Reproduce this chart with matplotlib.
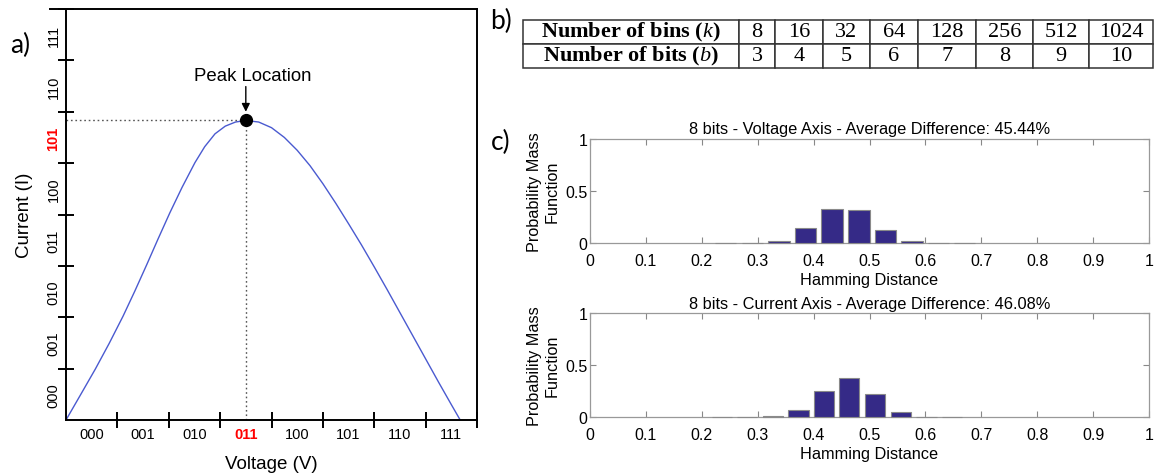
import matplotlib
matplotlib.use("Agg")
import matplotlib.pyplot as plt

plt.rcParams['font.family'] = ['Liberation Sans', 'DejaVu Sans']
plt.rcParams['mathtext.fontset'] = 'custom'
plt.rcParams['mathtext.rm'] = 'Liberation Serif'
plt.rcParams['mathtext.it'] = 'Liberation Serif:italic'

# ---- panel a: I-V curve with 3-bit quantisation ----
codes = ['000', '001', '010', '011', '100', '101', '110', '111']
voltage = [0, 0.3, 0.57, 0.84, 1.11, 1.34, 1.57, 1.79, 2.02, 2.26, 2.51, 2.7, 2.9,
           3.1, 3.3, 3.5, 3.75, 4.0, 4.25, 4.5, 4.75, 5.0, 5.25, 5.5, 5.75, 6.0,
           6.25, 6.5, 6.75, 7.0, 7.25, 7.5, 7.673]
current = [0, 0.52, 0.99, 1.49, 2.02, 2.51, 3.02, 3.52, 4.03, 4.53, 5.01, 5.32, 5.57,
           5.72, 5.80, 5.83, 5.8, 5.69, 5.5, 5.25, 4.95, 4.6, 4.22, 3.82, 3.41, 2.98,
           2.54, 2.09, 1.64, 1.19, 0.74, 0.3, 0.0]
peak_v, peak_i = 3.5, 5.83
peak_v_code, peak_i_code = '011', '101'

# ---- panel b: table ----
n_bins = [8, 16, 32, 64, 128, 256, 512, 1024]
n_bits = [3, 4, 5, 6, 7, 8, 9, 10]

# ---- panel c: hamming distance PMFs ----
volt_hd = [0.243, 0.291, 0.338, 0.386, 0.433, 0.481, 0.528, 0.576, 0.623, 0.670]
volt_pmf = [0.004, 0.004, 0.025, 0.147, 0.329, 0.319, 0.131, 0.022, 0.004, 0.004]
curr_hd = [0.236, 0.281, 0.327, 0.373, 0.419, 0.464, 0.510, 0.556, 0.602, 0.648]
curr_pmf = [0.004, 0.004, 0.012, 0.073, 0.256, 0.375, 0.224, 0.048, 0.004, 0.004]
hd_ticks = [0, 0.1, 0.2, 0.3, 0.4, 0.5, 0.6, 0.7, 0.8, 0.9, 1]
hd_labels = ['0', '0.1', '0.2', '0.3', '0.4', '0.5', '0.6', '0.7', '0.8', '0.9', '1']

W, H = 1155, 477
fig = plt.figure(figsize=(W / 100, H / 100), dpi=100)


def px_rect(l, t, r, b):
    return [l / W, 1 - b / H, (r - l) / W, (b - t) / H]


# panel a
ax = fig.add_axes(px_rect(66, 10, 477, 421))
ax.plot(voltage, current, color='#4a5ad0', lw=1.0)
ax.plot([0, peak_v], [peak_i, peak_i], color='#555555', lw=1, ls=(0, (1.2, 2)))
ax.plot([peak_v, peak_v], [0, peak_i], color='#555555', lw=1, ls=(0, (1.2, 2)))
ax.plot(peak_v, peak_i, 'o', color='black', ms=8.5)
ax.annotate('', xy=(peak_v, peak_i + 0.17), xytext=(peak_v, peak_i + 0.66),
            arrowprops=dict(arrowstyle='-|>', color='black', lw=1,
                            mutation_scale=12, shrinkA=0, shrinkB=0))
ax.text(peak_v + 0.14, peak_i + 0.87, 'Peak Location', ha='center', va='center',
        fontsize=13.4)
ax.set_xlim(0, 8)
ax.set_ylim(0, 8)
for s in ax.spines.values():
    s.set_linewidth(1.4)
ax.set_xticks(range(1, 9))
ax.set_yticks(range(1, 9))
ax.set_xticklabels([])
ax.set_yticklabels([])
ax.tick_params(which='major', direction='inout', length=11.5, width=1.4)
mid = [i + 0.5 for i in range(len(codes))]
ax.set_xticks(mid, minor=True)
ax.set_yticks(mid, minor=True)
ax.set_xticklabels(codes, minor=True, fontsize=10.5)
ax.set_yticklabels(codes, minor=True, fontsize=10.5, rotation=90, va='center')
ax.tick_params(which='minor', length=0)
ax.tick_params(axis='x', which='minor', pad=5)
ax.tick_params(axis='y', which='minor', pad=4)
for lab in ax.get_xticklabels(minor=True):
    if lab.get_text() == peak_v_code:
        lab.set_color('red')
        lab.set_fontweight('bold')
for lab in ax.get_yticklabels(minor=True):
    if lab.get_text() == peak_i_code:
        lab.set_color('red')
        lab.set_fontweight('bold')
ax.set_xlabel('Voltage (V)', fontsize=13.5)
ax.set_ylabel('Current (I)', fontsize=13.5)
ax.xaxis.set_label_coords(0.5, -0.085)
ax.yaxis.set_label_coords(-0.08, 0.5)
ax.plot([-0.04, 0], [1, 1], transform=ax.transAxes, color='black', lw=1.4,
        clip_on=False)

# panel labels
for txt, x, y in [('a)', 20, 45), ('b)', 501, 21), ('c)', 501, 142)]:
    fig.text(x / W, 1 - y / H, txt, fontsize=19, family='Lato',
             ha='center', va='center')

# panel b
tab_ax = fig.add_axes(px_rect(523, 20.5, 1153, 68.5))
tab_ax.axis('off')
cells = [['Number of bins ($k$)'] + [str(v) for v in n_bins],
         ['Number of bits ($b$)'] + [str(v) for v in n_bits]]
col_w = [216, 36, 48, 47, 48, 58, 57, 56, 64]
col_w = [c / sum(col_w) for c in col_w]
tab = tab_ax.table(cellText=cells, colWidths=col_w, cellLoc='center',
                   bbox=[0, 0, 1, 1])
tab.auto_set_font_size(False)
tab.set_fontsize(16)
for (r, c), cell in tab.get_celld().items():
    cell.set_edgecolor('#333333')
    cell.set_linewidth(1.1)
    t = cell.get_text()
    t.set_fontfamily('Liberation Serif')
    if c == 0:
        t.set_fontweight('bold')


# panel c
def pmf_panel(rect, hd, pmf, width, title):
    a = fig.add_axes(rect)
    a.bar(hd, pmf, width=width, color='#352a87', edgecolor='#8a8a8a', lw=0.8,
          zorder=3, clip_on=False)
    a.set_xlim(0, 1)
    a.set_ylim(0, 1)
    a.set_xticks(hd_ticks)
    a.set_xticklabels(hd_labels)
    a.set_yticks([0, 0.5, 1])
    a.set_yticklabels(['0', '0.5', '1'])
    a.tick_params(direction='in', top=True, right=True, length=4, width=0.8,
                  color='#888888', labelsize=11.5)
    a.tick_params(axis='x', pad=7)
    a.tick_params(axis='y', pad=2)
    for s in a.spines.values():
        s.set_color('#999999')
        s.set_linewidth(0.9)
    a.set_title(title, fontsize=11.8, pad=4)
    a.set_xlabel('Hamming Distance', fontsize=11.7)
    a.set_ylabel('Probability Mass\nFunction', fontsize=11.7, linespacing=1.2)
    a.xaxis.set_label_coords(0.5, -0.275)
    a.yaxis.set_label_coords(-0.055, 0.5)
    return a


pmf_panel(px_rect(590, 140, 1149, 244.3), volt_hd, volt_pmf, 0.038,
          '8 bits - Voltage Axis - Average Difference: 45.44%')
pmf_panel(px_rect(590, 314.3, 1149, 418.3), curr_hd, curr_pmf, 0.036,
          '8 bits - Current Axis - Average Difference: 46.08%')

fig.savefig('out.png', dpi=100)
